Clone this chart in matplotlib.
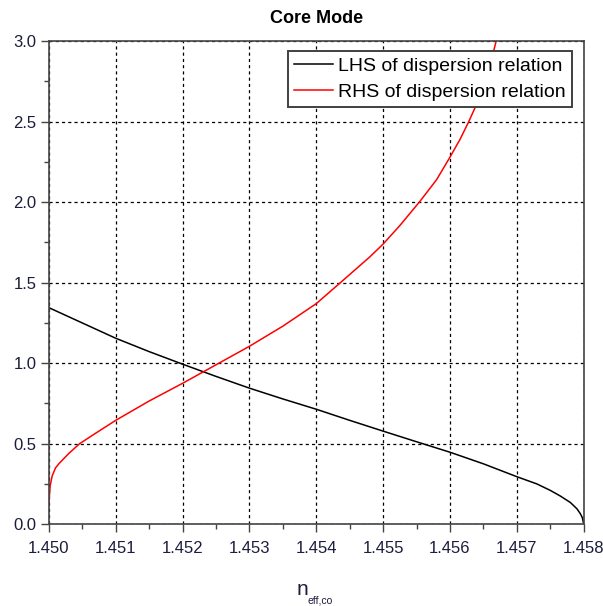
import numpy as np
import matplotlib
matplotlib.use("Agg")
import matplotlib.pyplot as plt
from matplotlib.ticker import MultipleLocator

plt.rcParams['font.family'] = ['Liberation Sans', 'DejaVu Sans']

# values
lhs_n = [1.4500, 1.4505, 1.4510, 1.4515, 1.4520, 1.4525, 1.4530, 1.4535, 1.4540,
         1.4545, 1.4550, 1.4555, 1.4560, 1.4565, 1.4570, 1.4573, 1.4575, 1.45765,
         1.4578, 1.4579, 1.45795, 1.45798, 1.4580]
lhs_val = [1.345, 1.25, 1.155, 1.072, 0.994, 0.918, 0.845, 0.778, 0.714,
           0.645, 0.578, 0.512, 0.447, 0.375, 0.295, 0.25, 0.21, 0.175,
           0.135, 0.095, 0.065, 0.04, 0.0]

rhs_n = [1.45000, 1.45002, 1.45005, 1.4501, 1.45016, 1.4503, 1.45046, 1.4507,
         1.4510, 1.4515, 1.4520, 1.4525, 1.4530, 1.4535, 1.4540, 1.45436,
         1.4548, 1.4550, 1.45525, 1.45555, 1.4558, 1.4560, 1.45615, 1.45628,
         1.4564, 1.4565, 1.4566, 1.45669, 1.4568]
rhs_val = [0.13, 0.24, 0.30, 0.35, 0.38, 0.44, 0.50, 0.565,
           0.645, 0.765, 0.875, 0.99, 1.105, 1.23, 1.37, 1.50,
           1.66, 1.74, 1.855, 2.005, 2.14, 2.28, 2.39, 2.5,
           2.61, 2.72, 2.85, 3.0, 3.1]

labels = ['LHS of dispersion relation', 'RHS of dispersion relation']
x_ticks = [1.450, 1.451, 1.452, 1.453, 1.454, 1.455, 1.456, 1.457, 1.458]
y_ticks = [0.0, 0.5, 1.0, 1.5, 2.0, 2.5, 3.0]

fig = plt.figure(figsize=(6.03, 6.06), dpi=100)
ax = fig.add_axes([0.081, 0.135, 0.887, 0.797])

ax.plot(lhs_n, lhs_val, color='black', lw=1.1, label=labels[0])
ax.plot(rhs_n, rhs_val, color='red', lw=1.1, label=labels[1])

ax.set_xlim(1.450, 1.458)
ax.set_ylim(0, 3.0)
ax.set_xticks(x_ticks)
ax.set_xticklabels(['%.3f' % t for t in x_ticks])
ax.set_yticks(y_ticks)
ax.set_yticklabels(['%.1f' % t for t in y_ticks])
ax.xaxis.set_minor_locator(MultipleLocator(0.0005))
ax.yaxis.set_minor_locator(MultipleLocator(0.25))

tick_col = '#1c1c3c'
ax.tick_params(axis='both', which='major', direction='out', length=6, width=1,
               colors='#444444', labelcolor=tick_col, labelsize=12)
ax.tick_params(axis='x', which='major', pad=6)
ax.tick_params(axis='y', which='major', pad=3)
ax.tick_params(axis='both', which='minor', direction='out', length=3.5, width=1,
               colors='#444444')

for side in ['left', 'bottom', 'top', 'right']:
    ax.spines[side].set_color('#444444')
    ax.spines[side].set_linewidth(1.2)

ax.grid(True, which='major', color='black', lw=0.9, linestyle=(0, (2.5, 2.5)))

ax.set_title('Core Mode', fontsize=13, fontweight='bold', pad=13)

# x label with small subscript
fig.text(0.492, 0.018, 'n', fontsize=15, color=tick_col, ha='left', va='baseline')
fig.text(0.510, 0.004, 'eff,co', fontsize=7.5, color=tick_col, ha='left', va='baseline')

leg = ax.legend(loc='upper right', bbox_to_anchor=(0.978, 0.979), borderaxespad=0,
                fontsize=14, handlelength=2.0, handletextpad=0.3, borderpad=0.3,
                labelspacing=0.45, fancybox=False, framealpha=1, edgecolor='#404040')
leg.get_frame().set_linewidth(1.4)

fig.savefig('out.png', dpi=100)
